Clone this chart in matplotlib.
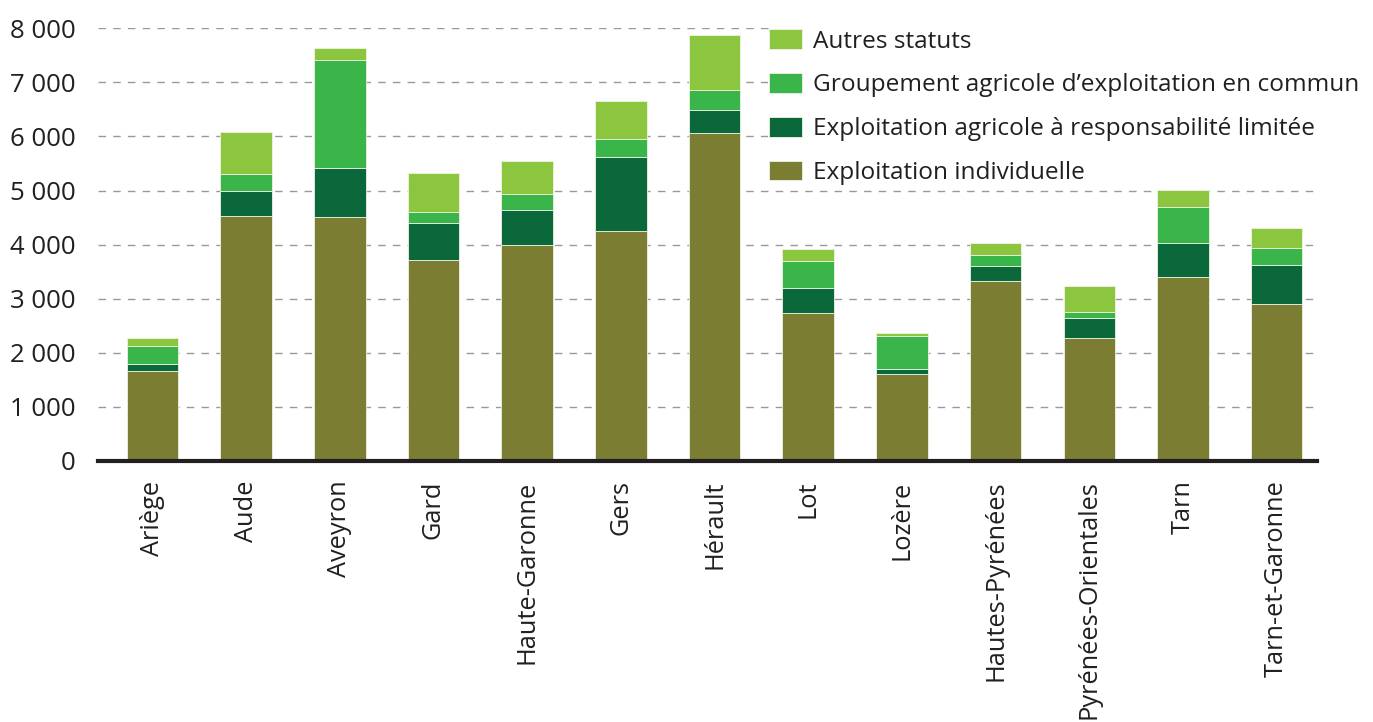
import matplotlib
matplotlib.use("Agg")
import matplotlib.pyplot as plt
from matplotlib.ticker import FuncFormatter
import numpy as np

categories = ["Ariège", "Aude", "Aveyron", "Gard", "Haute-Garonne", "Gers", "Hérault",
              "Lot", "Lozère", "Hautes-Pyrénées", "Pyrénées-Orientales", "Tarn", "Tarn-et-Garonne"]
indiv = [1660, 4530, 4515, 3710, 4000, 4260, 6070, 2740, 1615, 3320, 2280, 3395, 2900]
earl = [140, 455, 900, 690, 645, 1365, 425, 455, 85, 285, 365, 635, 720]
gaec = [325, 315, 2000, 210, 290, 325, 365, 505, 620, 195, 105, 660, 315]
autres = [140, 790, 215, 715, 615, 715, 1020, 215, 40, 235, 480, 325, 380]

series_names = ["Exploitation individuelle",
                "Exploitation agricole à responsabilité limitée",
                "Groupement agricole d’exploitation en commun",
                "Autres statuts"]
colors = ["#7b7e32", "#0b683a", "#39b54a", "#8cc63f"]

plt.rcParams['font.family'] = ['Open Sans', 'DejaVu Sans']
txt = "#231f20"

fig = plt.figure(figsize=(13.73, 7.22), dpi=100)
ax = fig.add_axes([98/1373, 1-461/722, (1317-98)/1373, (461-28.3)/722])

x = np.arange(len(categories))
bottom = np.zeros(len(categories))
handles = []
for vals, name, col in zip([indiv, earl, gaec, autres], series_names, colors):
    b = ax.bar(x, vals, width=0.55, bottom=bottom, color=col, label=name,
               edgecolor="#eef3e4", linewidth=0.6, zorder=3)
    handles.append(b)
    bottom += np.array(vals)

ax.set_xlim(-0.58, 12.43)
ax.set_ylim(0, 8000)
ax.set_yticks(range(0, 8001, 1000))
ax.yaxis.set_major_formatter(FuncFormatter(lambda v, p: f"{int(v):,}".replace(",", " ")))
ax.grid(axis="y", color="#999999", linestyle=(0, (5.4, 5.2)), linewidth=1.0, zorder=0)
ax.set_axisbelow(True)

for s in ["top", "right", "left"]:
    ax.spines[s].set_visible(False)
ax.spines["bottom"].set_linewidth(3)
ax.spines["bottom"].set_color(txt)
ax.spines["bottom"].set_zorder(5)

ax.tick_params(axis="y", length=0, pad=16, labelsize=18.5, labelcolor=txt)
ax.tick_params(axis="x", length=0, pad=14, labelsize=18.3, labelcolor=txt)
ax.set_xticks(x)
ax.set_xticklabels(categories, rotation=90, va="top", ha="center")

leg = ax.legend(handles[::-1], series_names[::-1], loc="upper left",
                bbox_to_anchor=(768/1373, 1-28/722), bbox_transform=fig.transFigure,
                frameon=True, facecolor="white", edgecolor="none", framealpha=1,
                fontsize=17.6, handlelength=1.35, handleheight=0.86, handletextpad=0.45,
                labelspacing=0.8, borderpad=0.05, borderaxespad=0)
for t in leg.get_texts():
    t.set_color(txt)
leg.set_zorder(6)

fig.savefig("out.png", dpi=100)
